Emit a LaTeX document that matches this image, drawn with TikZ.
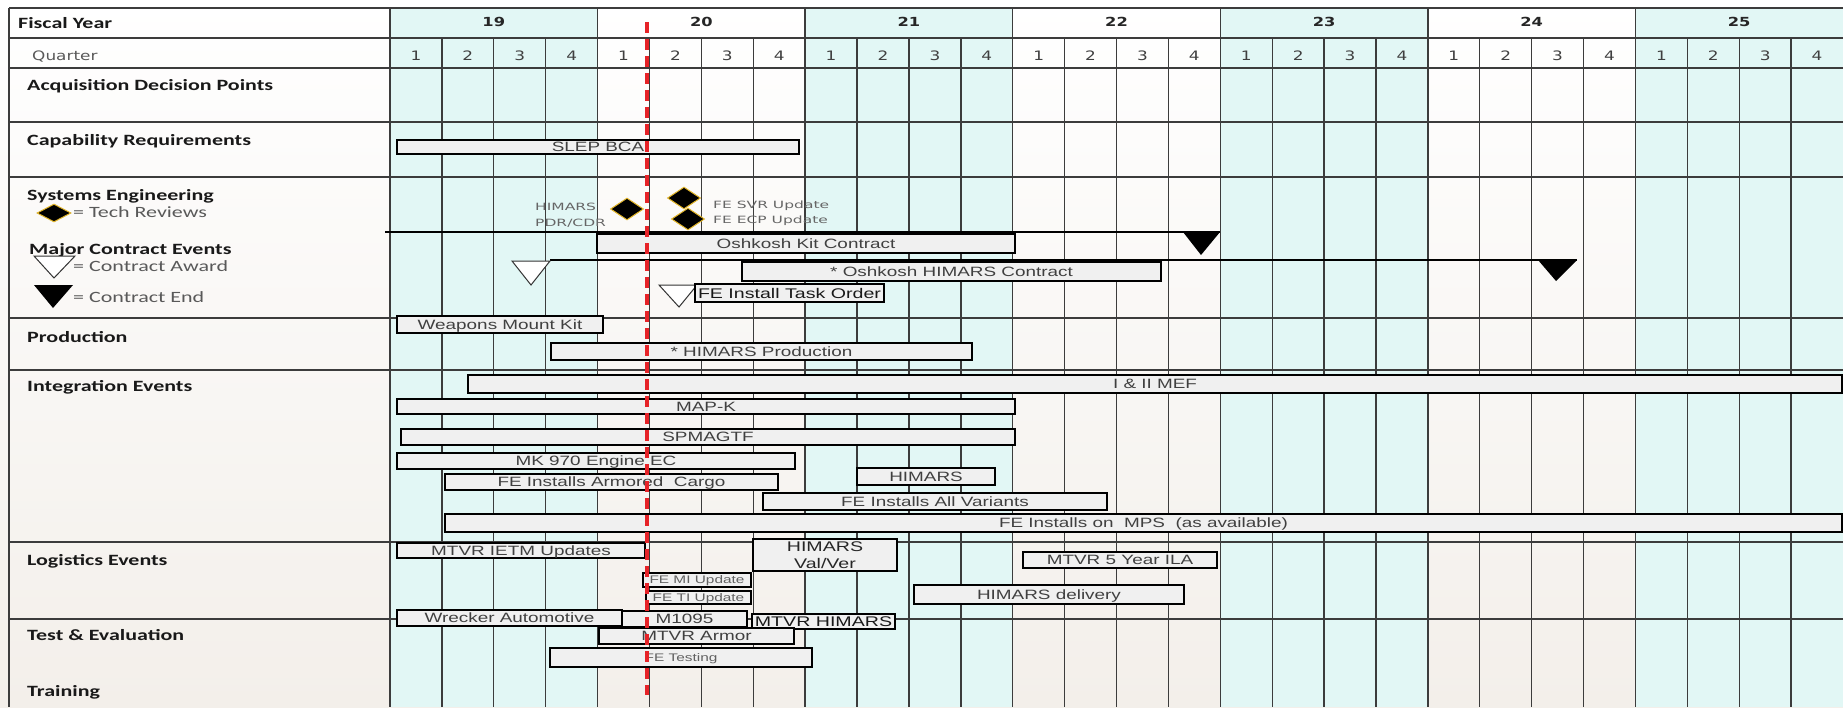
\documentclass[tikz,border=0pt]{standalone}
\usepackage{fontspec}
\usetikzlibrary{shapes.geometric}
\newfontfamily\labfont[FakeStretch=1.4]{Carlito}
\newfontfamily\hdrfont[FakeStretch=1.3]{DejaVu Sans}
\newfontfamily\smfont[FakeStretch=1.55]{DejaVu Sans}
\newfontfamily\barfont[FakeStretch=1.4]{Liberation Sans}
\definecolor{cyanbg}{RGB}{226,247,245}
\definecolor{gridc}{RGB}{60,60,60}
\definecolor{barfill}{RGB}{240,240,240}
\definecolor{gold}{RGB}{225,180,40}
\definecolor{redline}{RGB}{230,35,40}
\definecolor{warm}{RGB}{243,239,234}
\newcommand{\gbar}[7][]{%
  \pgfmathsetmacro\gbw{#5-#3}%
  \pgfmathsetmacro\gbh{#6-#4}%
  \pgfmathsetmacro\gbx{(#3+#5)/2}%
  \pgfmathsetmacro\gby{(#4+#6)/2}%
  \node[barbox,minimum width=\gbw pt,minimum height=\gbh pt,#1] (#2) at (\gbx,\gby) {#7};}
\tikzset{
  barbox/.style={draw=black, line width=1.1pt, fill=barfill, inner sep=0pt, text=black!75,
    font=\barfont\fontsize{13.5}{15}\selectfont, text height=9.7pt, text depth=0pt},
  darktext/.style={text=black!90, font=\barfont\fontsize{14}{16}\selectfont, text height=10pt},
  smalltext/.style={text=black!62, font=\barfont\fontsize{11}{13}\selectfont, text height=7.9pt},
  rowlab/.style={anchor=base west, inner sep=0pt, font=\labfont\bfseries\fontsize{15.7}{18}\selectfont, text=black!90},
  legtext/.style={anchor=base west, inner sep=0pt, font=\labfont\fontsize{15.7}{18}\selectfont, text=black!65},
  gridline/.style={draw=gridc, line width=1.4pt},
  cline/.style={draw=black, line width=2.2pt},
  review/.style={diamond, fill=black, draw=gold, line width=1pt, inner sep=0pt, minimum width=33pt, minimum height=22pt},
  award/.style={fill=white, draw=black!80, line width=1pt},
  cend/.style={fill=black},
  tinylab/.style={anchor=base west, inner sep=0pt, font=\smfont\fontsize{10}{12}\selectfont, text=black!60},
  yearlab/.style={anchor=base, inner sep=0pt, font=\hdrfont\bfseries\fontsize{12.5}{14}\selectfont, text=black!85},
  qlab/.style={anchor=base, inner sep=0pt, font=\hdrfont\fontsize{13}{15}\selectfont, text=black!75},
  todayline/.style={draw=redline, line width=3.5pt, dash pattern=on 11pt off 6pt},
}
\begin{document}
\begin{tikzpicture}[x=1pt,y=-1pt]
\useasboundingbox (0,0) rectangle (1843,707);
\shade[top color=white, bottom color=warm] (0,0) rectangle (1843,707);
\foreach \i in {0,2,4,6} \fill[cyanbg] ({390+\i*4*51.893},8) rectangle ({390+(\i+1)*4*51.893},707);
% grid
\foreach \k in {1,...,27} \draw[gridline] ({390+\k*51.893},38) -- ({390+\k*51.893},707);
\foreach \k in {4,8,...,24} \draw[gridline] ({390+\k*51.893},8) -- ({390+\k*51.893},38);
\foreach \y in {8,38,68,122,177,318,370,542,619} \draw[gridline] (9,\y) -- (1843,\y);
\draw[gridline] (9,8) -- (9,707);
\draw[gridline] (390,8) -- (390,707);
% header
\node[rowlab] (fy) at (18,28) {Fiscal Year};
\node[qlab, anchor=base west, text=black!65] (qtr) at (32,60) {Quarter};
\foreach \n [count=\i from 0] in {19,20,21,22,23,24,25}
  \node[yearlab] (fy\n) at ({390+(4*\i+2)*51.893},26) {\n};
\foreach \i in {0,...,6}{\foreach \j in {1,...,4}{
  \node[qlab] (q\i-\j) at ({390+(4*\i+\j-0.5)*51.893},60) {\j};}}
% row labels
\node[rowlab] (adp) at (27,90.7) {Acquisition Decision Points};
\node[rowlab] (cr) at (27,145) {Capability Requirements};
\node[rowlab] (se) at (27,200) {Systems Engineering};
\node[review, minimum width=34pt, minimum height=18pt] (legd) at (54,213) {};
\node[legtext] (legdt) at (73,217) {= Tech Reviews};
\node[rowlab] (mce) at (29,254) {Major Contract Events};
\path[award] (34,256) -- (75,256) -- (54,278) -- cycle;
\node[legtext] (legat) at (73,271.5) {= Contract Award};
\path[cend] (34,285) -- (73,285) -- (53,308) -- cycle;
\node[legtext] (leget) at (73,302.5) {= Contract End};
\node[rowlab] (prod) at (27,342.5) {Production};
\node[rowlab] (integ) at (27,391.5) {Integration Events};
\node[rowlab] (logi) at (27,565) {Logistics Events};
\node[rowlab] (tne) at (27,640) {Test \& Evaluation};
\node[rowlab] (trn) at (27,696) {Training};
% capability
\gbar{slep}{397}{140}{799}{154}{SLEP BCA}
% systems engineering
\node[tinylab] (pdra) at (535,210) {HIMARS};
\node[tinylab] (pdrb) at (535,226) {PDR/CDR};
\node[review] (d1) at (627,209) {};
\node[review] (d2) at (684,198) {};
\node[review] (d3) at (688,219) {};
\node[tinylab] (svr) at (713,208) {FE SVR Update};
\node[tinylab] (ecp) at (713,223.3) {FE ECP Update};
% contracts
\coordinate (k1s) at (385,232);
\coordinate (k1e) at (1220,232);
\draw[cline] (k1s) -- (k1e);
\path[cend] (1183,232) -- (1220,232) -- (1201,255) -- cycle;
\gbar{kit}{597}{234}{1015}{253}{Oshkosh Kit Contract}
\coordinate (k2s) at (550,260);
\coordinate (k2e) at (1577,260);
\draw[cline] (k2s) -- (k2e);
\path[award] (512,261) -- (550,261) -- (531,285) -- cycle;
\path[cend] (1538,260) -- (1577,260) -- (1556,281) -- cycle;
\gbar{hc}{742}{262}{1161}{281}{* Oshkosh HIMARS Contract}
\path[award] (659,285) -- (697,285) -- (679,307) -- cycle;
\gbar[darktext]{fito}{695}{284}{884}{302}{FE Install Task Order}
% production
\gbar{wmk}{397}{316}{603}{333}{Weapons Mount Kit}
\gbar{hp}{551}{343}{972}{360}{* HIMARS Production}
% integration
\gbar{mef}{468}{375}{1842}{393}{I \& II MEF}
\gbar{mapk}{397}{399}{1015}{414}{MAP-K}
\gbar{spm}{401}{429}{1015}{445}{SPMAGTF}
\gbar{mk}{397}{453}{795}{469}{MK 970 Engine EC}
\gbar{feac}{445}{474}{778}{490}{FE Installs Armored\ \ Cargo}
\gbar{himi}{857}{468}{995}{485}{HIMARS}
\gbar{feav}{763}{493}{1107}{510}{FE Installs All Variants}
\gbar{mps}{445}{514}{1842}{532}{FE Installs on\ \ MPS\ \ (as available)}
% logistics
\gbar{ietm}{397}{543}{645}{558}{MTVR IETM Updates}
\gbar{vv}{753}{539}{897}{571}{}
\node[align=center, inner sep=0pt, font=\barfont\fontsize{14}{16.5}\selectfont, text=black!85] (vvt) at (vv.center) {HIMARS\\Val/Ver};
\gbar{ila}{1023}{552}{1217}{568}{MTVR 5 Year ILA}
\gbar[smalltext]{mi}{643}{573}{751}{587}{FE MI Update}
\gbar[smalltext]{ti}{646}{591}{751}{604}{FE TI Update}
\gbar{hdel}{914}{585}{1184}{604}{HIMARS delivery}
% test and evaluation
\gbar{wreck}{397}{610}{622}{626}{Wrecker Automotive}
\gbar{m1095}{622}{611}{747}{627}{M1095}
\gbar[darktext]{mh}{752}{614}{895}{629}{MTVR HIMARS}
\gbar{armor}{599}{628}{794}{644}{MTVR Armor}
\gbar[smalltext]{fet}{550}{648}{812}{667}{FE Testing}
% today line
\coordinate (todaytop) at (647,22);
\coordinate (todaybot) at (647,695);
\draw[todayline] (todaytop) -- (todaybot);
\end{tikzpicture}
\end{document}
